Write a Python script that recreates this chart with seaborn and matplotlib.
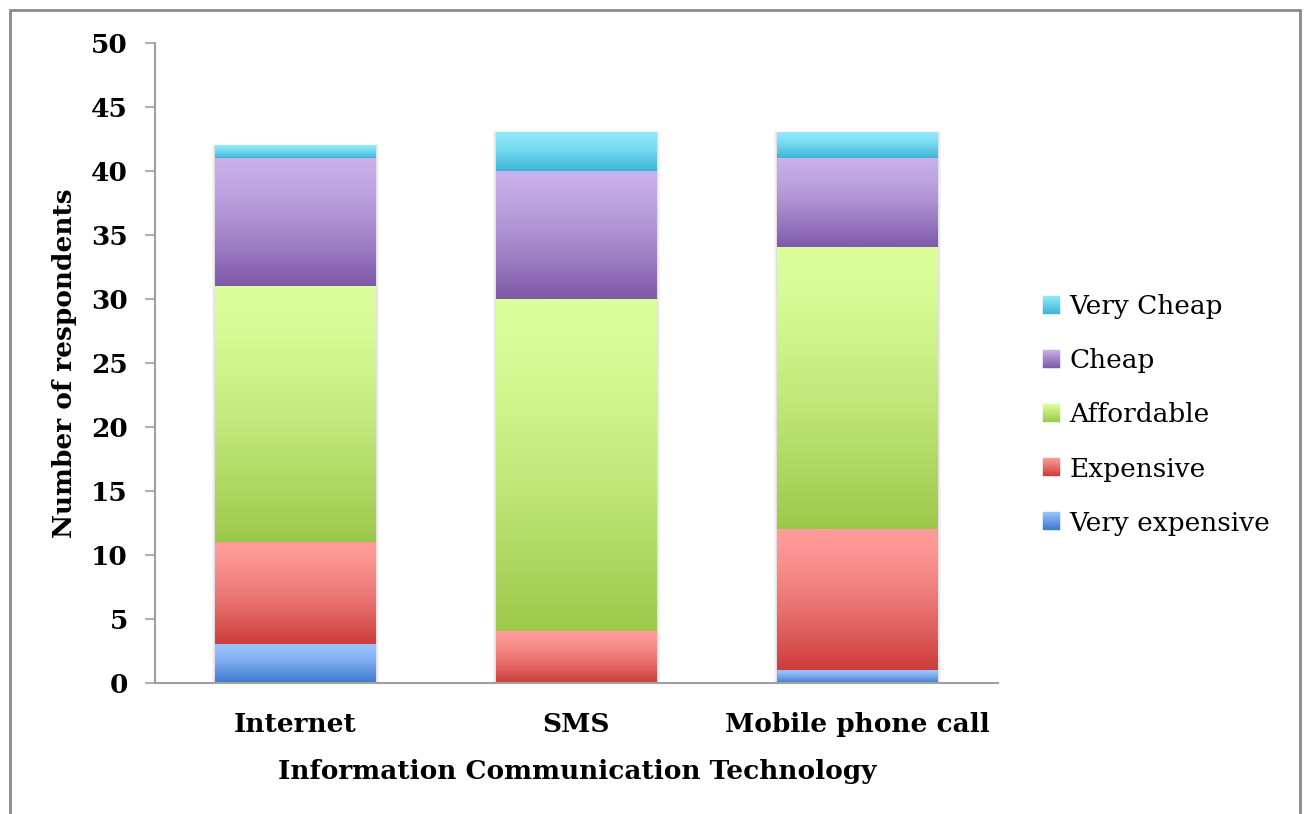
import numpy as np
import matplotlib
matplotlib.use("Agg")
import matplotlib.pyplot as plt
import seaborn as sns
from matplotlib.patches import Patch, Rectangle
from matplotlib.colors import to_rgba
from matplotlib.legend_handler import HandlerBase

# Survey responses: perceived cost of each technology
categories = ["Internet", "SMS", "Mobile phone call"]
levels = ["Very expensive", "Expensive", "Affordable", "Cheap", "Very Cheap"]
very_expensive = [3, 0, 1]
expensive = [8, 4, 11]
affordable = [20, 26, 22]
cheap = [10, 10, 7]
very_cheap = [1, 3, 2]

# light (top) and dark (bottom) ends of each segment's vertical gradient
top_colors = ["#9CC3FF", "#FF9C9A", "#DCFF9C", "#C8B0EA", "#90EAFA"]
bottom_colors = ["#3B78CC", "#CC3C3A", "#9CC84A", "#7D58A6", "#3CB4D6"]

sns.set_theme(style="white")
plt.rcParams["font.family"] = ["DejaVu Serif"]
plt.rcParams["text.color"] = "black"
plt.rcParams["axes.labelcolor"] = "black"
plt.rcParams["xtick.color"] = "black"
plt.rcParams["ytick.color"] = "black"


def blend(c1, c2, t):
    a = np.array(to_rgba(c1))
    b = np.array(to_rgba(c2))
    return tuple(a + (b - a) * t)


def gradient(top, bottom, n=256):
    t = np.linspace(0, 1, n) ** 1.4
    return np.array([blend(top, bottom, v) for v in t]).reshape(n, 1, 4)


class GradientHandler(HandlerBase):
    def __init__(self, top, bottom):
        super().__init__()
        self.top, self.bottom = top, bottom

    def create_artists(self, legend, orig_handle, xdescent, ydescent,
                       width, height, fontsize, trans):
        n = 12
        arts = []
        for i in range(n):
            c = blend(self.top, self.bottom, (i + 0.5) / n)
            arts.append(Rectangle((-xdescent, -ydescent + height * (1 - (i + 1) / n)),
                                  width, height / n, facecolor=c, edgecolor=c,
                                  lw=0.3, transform=trans))
        return arts


fig = plt.figure(figsize=(13.07, 8.14), dpi=100)
ax = fig.add_axes([155 / 1307, 1 - 683 / 814, 843 / 1307, 640 / 814])

series = np.array([very_expensive, expensive, affordable, cheap, very_cheap], dtype=float)
cum = np.cumsum(series, axis=0)

# stacked bars: draw cumulative totals from the tallest down
groups = {}
for k in range(len(levels) - 1, -1, -1):
    start = len(ax.patches)
    sns.barplot(x=categories, y=cum[k], color=bottom_colors[k], width=0.57,
                saturation=1, ax=ax, zorder=2)
    groups[k] = ax.patches[start:]

# soft shadow behind each full bar
for p in groups[len(levels) - 1]:
    for i, a in enumerate([0.03, 0.04, 0.05]):
        d = 0.012 - i * 0.004
        ax.add_patch(Rectangle((p.get_x() - d, 0), p.get_width() + 2 * d,
                               p.get_height() + d * 8, facecolor="black",
                               edgecolor="none", alpha=a, zorder=1))

# replace each visible segment with a vertical gradient
for k, patches in groups.items():
    for j, p in enumerate(patches):
        p.set_alpha(0)
        top = cum[k][j]
        bottom = cum[k - 1][j] if k > 0 else 0.0
        if top - bottom <= 0:
            continue
        x0 = p.get_x()
        ax.imshow(gradient(top_colors[k], bottom_colors[k]),
                  extent=[x0, x0 + p.get_width(), bottom, top],
                  origin="upper", aspect="auto", interpolation="bilinear", zorder=3)

ax.set_xlim(-0.5, len(categories) - 0.5)
ax.set_ylim(0, 50)
ax.set_yticks(np.arange(0, 51, 5))

for side in ["top", "right"]:
    ax.spines[side].set_visible(False)
for side in ["left", "bottom"]:
    ax.spines[side].set_color("#a0a0a0")
    ax.spines[side].set_linewidth(1.5)
    ax.spines[side].set_zorder(4)

ax.tick_params(axis="y", direction="out", length=7.5, width=1.2, color="#a0a0a0",
               labelcolor="black", pad=12, labelsize=19, left=True)
ax.tick_params(axis="x", length=0, pad=21, labelsize=19, labelcolor="black")
for lab in ax.get_yticklabels() + ax.get_xticklabels():
    lab.set_fontweight("bold")

ax.set_xlabel("Information Communication Technology", fontsize=19,
              fontweight="bold", color="black")
ax.xaxis.set_label_coords(0.501, -0.1375)
ax.xaxis.label.set_verticalalignment("center")
ax.set_ylabel("Number of respondents", fontsize=19, fontweight="bold", color="black")
ax.yaxis.set_label_coords(-0.107, 0.5)
ax.yaxis.label.set_verticalalignment("center")

handles = [Patch(label=levels[k]) for k in range(len(levels) - 1, -1, -1)]
hmap = {h: GradientHandler(top_colors[len(levels) - 1 - i], bottom_colors[len(levels) - 1 - i])
        for i, h in enumerate(handles)}
leg = fig.legend(handles=handles, handler_map=hmap, loc="center left",
                 bbox_to_anchor=(1043 / 1307, 1 - 415 / 814), bbox_transform=fig.transFigure,
                 frameon=False, fontsize=19, handlelength=0.65, handleheight=0.65,
                 handletextpad=0.35, labelspacing=1.1, borderpad=0, borderaxespad=0)
for t in leg.get_texts():
    t.set_color("black")

# outer chart frame
fig.patches.append(Rectangle((10 / 1307, -0.05), 1290 / 1307, 1.05 - 10 / 814,
                             transform=fig.transFigure, fill=False,
                             edgecolor="#8a8a8a", lw=2))

fig.savefig("out.png", dpi=100)
